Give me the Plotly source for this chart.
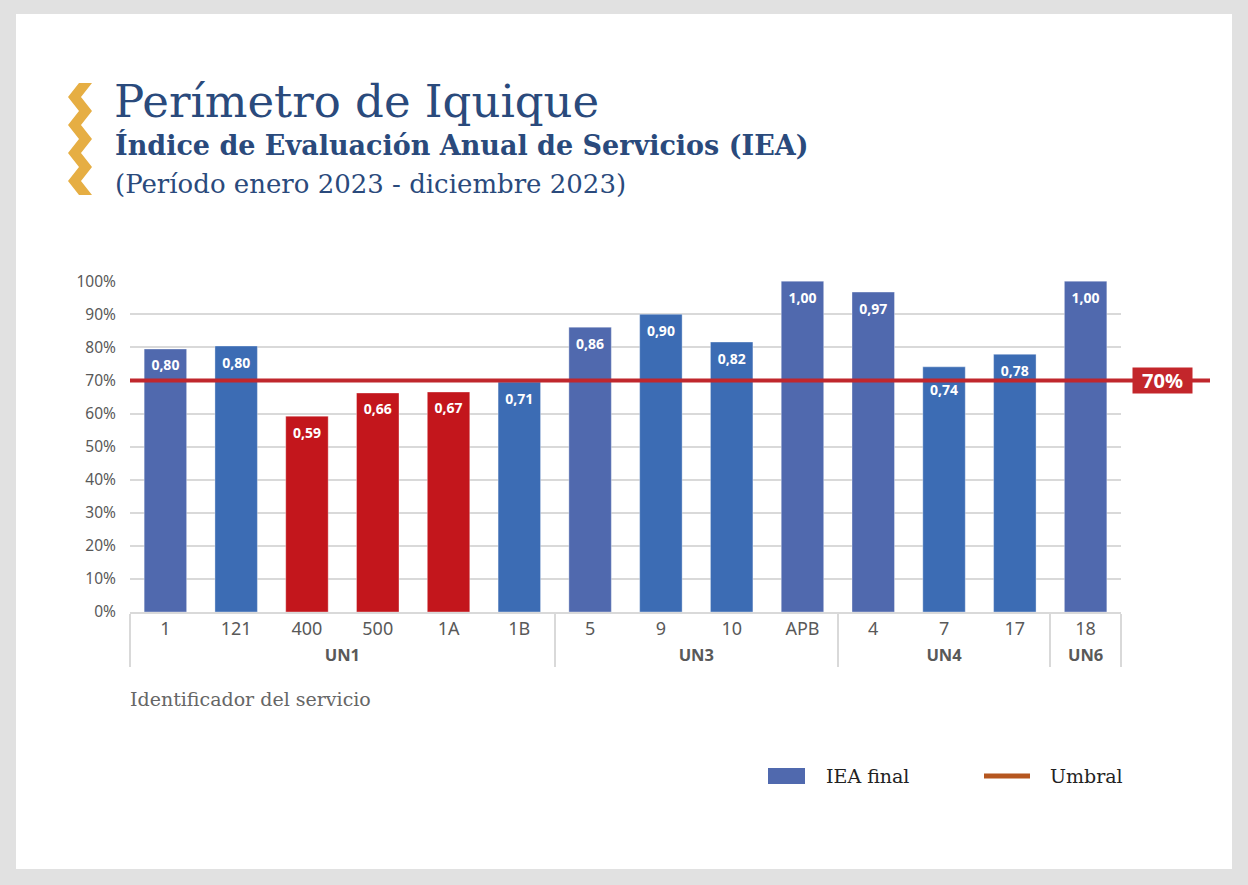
import plotly.graph_objects as go

# ---------------- data ----------------
groups = ["UN1", "UN1", "UN1", "UN1", "UN1", "UN1",
          "UN3", "UN3", "UN3", "UN3",
          "UN4", "UN4", "UN4",
          "UN6"]
services = ["1", "121", "400", "500", "1A", "1B",
            "5", "9", "10", "APB",
            "4", "7", "17",
            "18"]
iea_values = [0.795, 0.804, 0.592, 0.662, 0.665, 0.695,
              0.861, 0.900, 0.816, 1.000,
              0.967, 0.741, 0.779, 1.000]
iea_labels = ["0,80", "0,80", "0,59", "0,66", "0,67", "0,71",
              "0,86", "0,90", "0,82", "1,00",
              "0,97", "0,74", "0,78", "1,00"]
bar_colors = ["#5069ae", "#3c6cb4", "#c3161c", "#c3161c", "#c3161c", "#3c6cb4",
              "#5069ae", "#3c6cb4", "#3c6cb4", "#5069ae",
              "#5069ae", "#3c6cb4", "#3c6cb4", "#5069ae"]
umbral = 0.70
y_ticks = [0.0, 0.1, 0.2, 0.3, 0.4, 0.5, 0.6, 0.7, 0.8, 0.9, 1.0]

# ---------------- layout helpers ----------------
W, H = 1248, 885
L, R, T, B = 130, 1121, 281, 612   # plot area in pixels


def px(x):
    return (x - L) / (R - L)


def py(y):
    return (B - y) / (B - T)


SERIF = "DejaVu Serif"
SANS = "Noto Sans, Open Sans, sans-serif"
TITLE_COLOR = "#2a4a7c"

group_labels = [f"<span style='font-size:16.5px'><b>{g}</b></span>" for g in groups]
x_cats = [group_labels, services]

fig = go.Figure()

fig.add_trace(go.Bar(
    x=x_cats,
    y=iea_values,
    marker=dict(color=bar_colors, line=dict(width=1, color="rgba(255,255,255,0.35)")),
    width=0.6,
    showlegend=False,
    hoverinfo="skip",
))

# data labels: ~18px below the bar top, pushed below the threshold line if they would overlap it
px_per_unit = (B - T) / 1.0
label_y = []
for v in iea_values:
    ly = v - 18 / px_per_unit
    if abs(ly - umbral) < 7 / px_per_unit:
        ly = umbral - 11 / px_per_unit
    label_y.append(ly)

fig.add_trace(go.Scatter(
    x=x_cats,
    y=label_y,
    mode="text",
    text=iea_labels,
    textposition="middle center",
    textfont=dict(family="Open Sans, Noto Sans, sans-serif", size=14, color="white", weight="bold"),
    showlegend=False,
    hoverinfo="skip",
))

shapes = []
# white card on grey page
shapes.append(dict(type="rect", xref="paper", yref="paper", layer="below",
                   x0=px(16), x1=px(1232), y0=py(869), y1=py(14),
                   fillcolor="white", line=dict(width=0)))

# zig-zag icon
left_pts = []
right_pts = []
ys = [83, 97, 111, 125, 139, 153, 167, 181, 195]
for i, yv in enumerate(ys):
    if i % 2 == 0:
        left_pts.append((79, yv))
        right_pts.append((92, yv))
    else:
        left_pts.append((68, yv))
        right_pts.append((81, yv))
pts = left_pts + right_pts[::-1]
path = "M " + " L ".join(f"{px(a):.5f},{py(b):.5f}" for a, b in pts) + " Z"
shapes.append(dict(type="path", xref="paper", yref="paper", path=path,
                   fillcolor="#e6ae43", line=dict(width=0)))

# threshold line
shapes.append(dict(type="line", xref="paper", yref="y", x0=0, x1=px(1210),
                   y0=umbral, y1=umbral, line=dict(color="#c0272d", width=4)))

# legend marks
shapes.append(dict(type="rect", xref="paper", yref="paper",
                   x0=px(768), x1=px(805), y0=py(784), y1=py(768),
                   fillcolor="#5069ae", line=dict(width=0)))
shapes.append(dict(type="line", xref="paper", yref="paper",
                   x0=px(984), x1=px(1030), y0=py(776), y1=py(776),
                   line=dict(color="#b5561f", width=5)))

annotations = [
    dict(text="Perímetro de Iquique", x=px(112), y=py(101), xref="paper", yref="paper",
         xanchor="left", yanchor="middle", showarrow=False,
         font=dict(family=SERIF, size=45, color=TITLE_COLOR)),
    dict(text="<b>Índice de Evaluación Anual de Servicios (IEA)</b>", x=px(113), y=py(145),
         xref="paper", yref="paper", xanchor="left", yanchor="middle", showarrow=False,
         font=dict(family=SERIF, size=27, color=TITLE_COLOR)),
    dict(text="(Período enero 2023 - diciembre 2023)", x=px(113), y=py(184),
         xref="paper", yref="paper", xanchor="left", yanchor="middle", showarrow=False,
         font=dict(family=SERIF, size=26, color=TITLE_COLOR)),
    dict(text="Identificador del servicio", x=px(128), y=py(699),
         xref="paper", yref="paper", xanchor="left", yanchor="middle", showarrow=False,
         font=dict(family=SERIF, size=19, color="#666666")),
    dict(text="IEA final", x=px(824), y=py(776), xref="paper", yref="paper",
         xanchor="left", yanchor="middle", showarrow=False,
         font=dict(family=SERIF, size=19, color="#222222")),
    dict(text="Umbral", x=px(1048), y=py(776), xref="paper", yref="paper",
         xanchor="left", yanchor="middle", showarrow=False,
         font=dict(family=SERIF, size=19, color="#222222")),
    dict(text="<b>70%</b>", x=px(1162.5), y=umbral, xref="paper", yref="y",
         xanchor="center", yanchor="middle", showarrow=False,
         bgcolor="#c3262b", width=57, height=23, borderpad=1,
         font=dict(family=SANS, size=20, color="white")),
]

fig.update_layout(
    width=W, height=H, autosize=False,
    margin=dict(l=L, r=W - R, t=T, b=H - B, pad=0),
    paper_bgcolor="#e1e1e1",
    plot_bgcolor="rgba(0,0,0,0)",
    shapes=shapes,
    annotations=annotations,
    showlegend=False,
)

fig.update_yaxes(
    range=[0, 1.0005],
    tickvals=y_ticks,
    tickformat=".0%",
    showgrid=True, gridcolor="#d9d9d9", gridwidth=1.5,
    zeroline=False, showline=False,
    ticks="outside", ticklen=10, tickcolor="rgba(0,0,0,0)",
    tickfont=dict(family=SANS, size=15.5, color="#595959"),
    fixedrange=True,
)

fig.update_xaxes(
    type="multicategory",
    range=[-0.5, len(services) - 0.5],
    showline=True, linecolor="#d9d9d9", linewidth=1.5,
    showgrid=False,
    showdividers=True, dividercolor="#d9d9d9", dividerwidth=1.5,
    ticks="",
    tickfont=dict(family=SANS, size=18, color="#595959"),
    fixedrange=True,
)

fig.write_html("out.html", config={"displayModeBar": False},
               post_script="document.body.style.margin='0';")
